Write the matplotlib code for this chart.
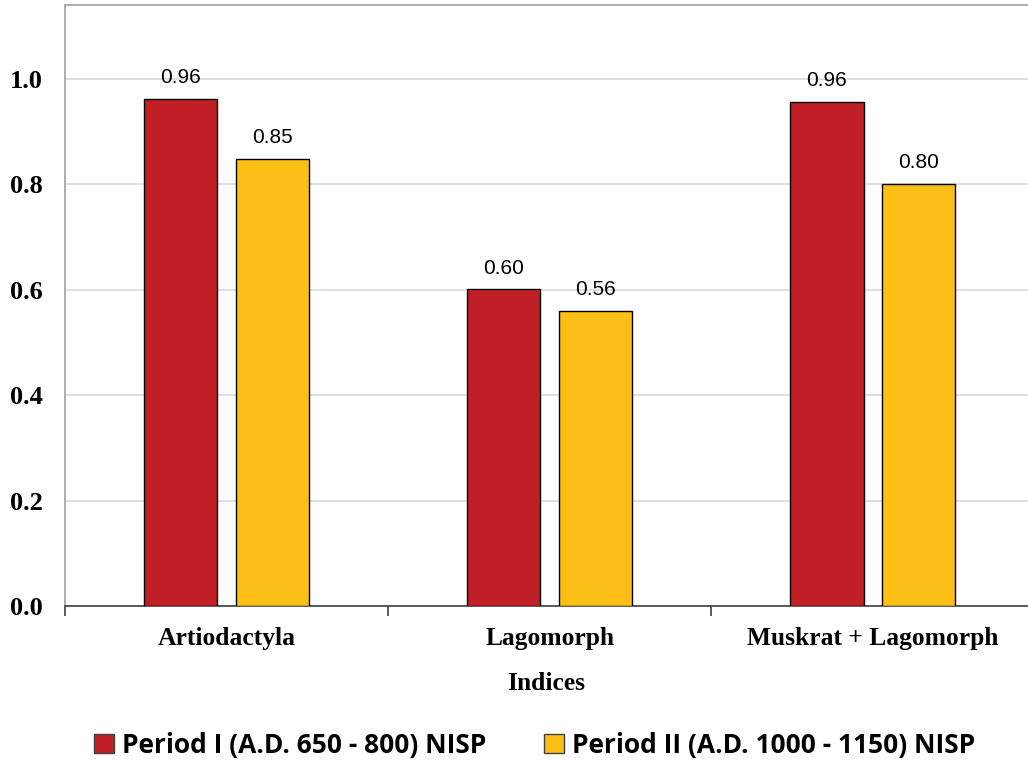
import numpy as np
import matplotlib.pyplot as plt

# index values per taxon group, two periods
categories = ["Artiodactyla", "Lagomorph", "Muskrat + Lagomorph"]
period1 = [0.962, 0.601, 0.956]
period2 = [0.848, 0.560, 0.801]
labels = ["Period I (A.D. 650 - 800) NISP", "Period II (A.D. 1000 - 1150) NISP"]
colors = ["#c01f26", "#fbbf16"]

fig = plt.figure(figsize=(10.28, 7.61), dpi=100)
ax = fig.add_axes([65/1028, 155/761, 963/1028, 601/761])

x = np.arange(len(categories))
w = 0.226
off = 0.142
b1 = ax.bar(x - off, period1, w, color=colors[0], edgecolor="black", linewidth=1, label=labels[0], zorder=3)
b2 = ax.bar(x + off, period2, w, color=colors[1], edgecolor="black", linewidth=1, label=labels[1], zorder=3)

for bars, vals in ((b1, period1), (b2, period2)):
    for r, v in zip(bars, vals):
        ax.text(r.get_x() + r.get_width()/2, v + 0.022, "%.2f" % v, ha="center", va="bottom",
                fontsize=15, family="Liberation Sans")

ax.set_xlim(-0.5, 2.48)
ax.set_ylim(0, 1.14)
ax.set_yticks(np.arange(0, 1.01, 0.2))
ax.set_yticklabels(["%.1f" % t for t in np.arange(0, 1.01, 0.2)], fontsize=19,
                   family="Liberation Serif", fontweight="bold")
ax.set_xticks(x)
ax.set_xticklabels(categories, fontsize=18.4, family="Liberation Serif", fontweight="bold")
ax.set_xticks([-0.5, 0.5, 1.5], minor=True)
ax.tick_params(axis="x", which="major", length=0, pad=15)
ax.tick_params(axis="x", which="minor", length=7, width=1.2, color="#404040", direction="out")
ax.tick_params(axis="y", length=0, pad=16)

ax.grid(axis="y", color="#d9d9d9", linewidth=1.2, zorder=0)
for s in ("left", "top"):
    ax.spines[s].set_color("#a0a0a0")
    ax.spines[s].set_linewidth(1.2)
ax.spines["right"].set_visible(False)
ax.spines["bottom"].set_color("#404040")
ax.spines["bottom"].set_linewidth(1.2)

ax.set_xlabel("Indices", fontsize=18.4, family="Liberation Serif", fontweight="bold", labelpad=16)

leg = fig.legend(loc="center", bbox_to_anchor=(0.52, 16/761), ncol=2, frameon=False,
                 prop={"family": "Open Sans", "weight": "bold", "size": 19},
                 handlelength=0.75, handleheight=0.75, handletextpad=0.3, columnspacing=2.2)
for h in leg.legend_handles:
    h.set_edgecolor("#404040")

fig.savefig("out.png", dpi=100)
